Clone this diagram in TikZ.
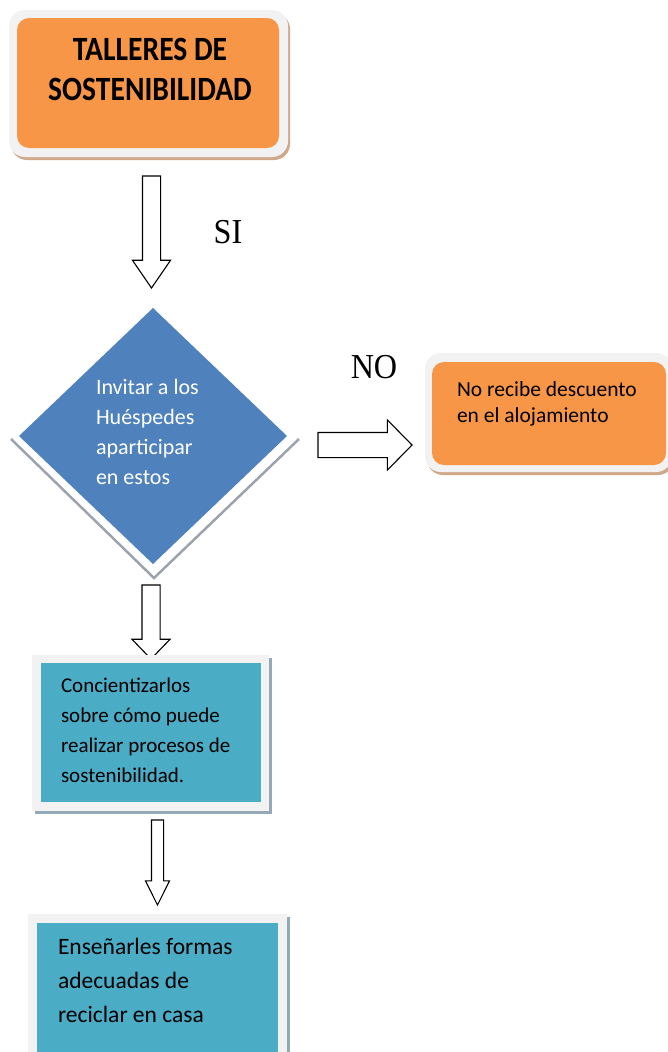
\documentclass[tikz,border=0pt]{standalone}
\usepackage{fontspec}
\setmainfont{Carlito}
\newfontfamily\condfont[FakeStretch=0.87]{Carlito}
\newfontfamily\timesfont[FakeStretch=0.92]{Liberation Serif}
\usetikzlibrary{shapes.geometric,shapes.arrows,shadows}
\definecolor{boxorange}{HTML}{F79646}
\definecolor{boxblue}{HTML}{4F81BD}
\definecolor{boxteal}{HTML}{4BACC6}
\definecolor{framegray}{HTML}{F2F2F2}
\definecolor{shadowtan}{HTML}{CFA98A}
\definecolor{shadowblue}{HTML}{93A9B7}
\definecolor{shadowgray}{HTML}{9DA3AC}

\begin{document}
\begin{tikzpicture}[x=1pt, y=-1pt,
  every node/.style={inner sep=0pt, outer sep=0pt},
  tanframe/.style={fill=framegray, rounded corners=16pt, drop shadow={shadow xshift=2pt, shadow yshift=-3pt, fill=shadowtan, opacity=1}},
  blueframe/.style={fill=framegray, drop shadow={shadow xshift=3pt, shadow yshift=-3pt, fill=shadowblue, opacity=1}},
  orangebox/.style={fill=boxorange, rounded corners=12pt},
  tealbox/.style={fill=boxteal},
  blockarrow/.style={single arrow, draw=black, line width=1.1pt, fill=white, rotate=-90, single arrow head indent=0pt, anchor=tip},
  answer/.style={font=\timesfont\fontsize{35}{35}\selectfont}]
\useasboundingbox (0,0) rectangle (668,1052);
\clip (0,0) rectangle (668,1052);
\node[tanframe, minimum width=279, minimum height=147] (talframe) at (148.5,83.5) {};
\node[orangebox, minimum width=262, minimum height=130] (talleres) at (148,83) {};
\node[align=center, font=\condfont\bfseries\fontsize{34}{40}\selectfont] (taltext) at (150,69) {TALLERES DE\\SOSTENIBILIDAD};
\node[blockarrow, minimum height=112, inner ysep=8.5pt, single arrow head extend=10pt, single arrow tip angle=69] (arrowsi) at (151.5,288) {};
\node[answer] (si) at (228,232) {SI};
\node[diamond, fill=boxblue, minimum width=268, minimum height=256] (invitar) at (153,436) {};
\draw[shadowgray, line width=2.5pt] ([shift={(-8,3)}]invitar.west) -- ([shift={(1,14)}]invitar.south) -- ([shift={(12,3)}]invitar.east);
\node[anchor=north west, align=left, text=white, font=\fontsize{22}{30}\selectfont] (invtext) at (96,379) {Invitar a los\\Huéspedes\\aparticipar\\en estos};
\node[answer] (no) at (374,367) {NO};
\node[blockarrow, minimum height=94, inner ysep=12pt, single arrow head extend=12.5pt, single arrow tip angle=91, rotate=90] (arrowno) at (412,445) {};
\node[tanframe, minimum width=247, minimum height=119] (noframe) at (548.5,412.5) {};
\node[orangebox, minimum width=234, minimum height=103] (descuento) at (549,413.5) {};
\node[anchor=north west, align=left, font=\fontsize{21.5}{26}\selectfont] (desctext) at (457,382) {No recibe descuento\\en el alojamiento};
\node[blockarrow, minimum height=74, inner ysep=8.5pt, single arrow head extend=10pt, single arrow tip angle=88] (arrowcon) at (151,659) {};
\node[blueframe, minimum width=237, minimum height=156] (conframe) at (150.5,733) {};
\node[tealbox, minimum width=220, minimum height=139] (concientizar) at (151,732.5) {};
\node[anchor=north west, align=left, font=\fontsize{21}{30}\selectfont] (context) at (61,678) {Concientizarlos\\sobre cómo puede\\realizar procesos de\\sostenibilidad.};
\node[blockarrow, minimum height=85, inner ysep=5.5pt, single arrow head extend=6pt, single arrow tip angle=53] (arrowens) at (157.5,905) {};
\node[blueframe, minimum width=259, minimum height=166] (ensframe) at (157.5,997) {};
\node[tealbox, minimum width=241, minimum height=147] (ensenar) at (157.5,996.5) {};
\node[anchor=north west, align=left, font=\fontsize{23.5}{34}\selectfont] (enstext) at (58,938) {Enseñarles formas\\adecuadas de\\reciclar en casa};
\end{tikzpicture}
\end{document}
